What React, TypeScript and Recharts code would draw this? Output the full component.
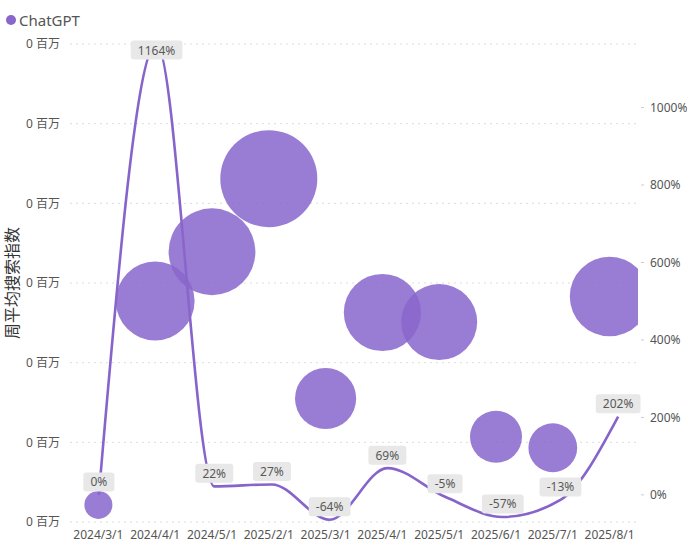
import React from 'react'
import {
  ComposedChart,
  Scatter,
  Line,
  XAxis,
  YAxis,
  ZAxis,
  CartesianGrid,
  LabelList,
} from 'recharts'

const months = [
  '2024/3/1',
  '2024/4/1',
  '2024/5/1',
  '2025/2/1',
  '2025/3/1',
  '2025/4/1',
  '2025/5/1',
  '2025/6/1',
  '2025/7/1',
  '2025/8/1',
]

// weekly average search index
const searchIndex = [10700, 138700, 169600, 215500, 77500, 131500, 125500, 53500, 46600, 141500]

// bubble size (area)
const bubbleSize = [196, 1552, 1884, 2352, 936, 1490, 1444, 676, 595, 1584]

// month-over-month growth, %
const growth = [0, 1164, 22, 27, -64, 69, -5, -57, -13, 202]

const leftTicks = [0, 50000, 100000, 150000, 200000, 250000, 300000]
const rightTicks = [0, 200, 400, 600, 800, 1000]

const purple = '#8866CC'
const font = "'Noto Sans', 'Noto Sans CJK SC', sans-serif"

const rows = months.map((date, i) => ({
  date,
  search: searchIndex[i],
  size: bubbleSize[i],
  growth: growth[i],
}))

function textWidth(s: string) {
  let w = 0
  for (const ch of s) {
    if (ch === '%') w += 10.2
    else if (ch === '-') w += 3.9
    else w += 6.86
  }
  return w
}

function GrowthLabel(props: any) {
  const { x, y, value } = props
  if (x == null || y == null) return null
  const text = `${value}%`
  const w = textWidth(text) + 14
  const h = 19
  // keep the box inside the plot at the top
  const cy = Math.max(y - 13, 50)
  return (
    <g>
      <rect x={x - w / 2} y={cy - h / 2} width={w} height={h} rx={3} fill="#e8e8e8" />
      <text
        x={x}
        y={cy}
        textAnchor="middle"
        dominantBaseline="central"
        fontSize={12}
        fill="#595959"
        fontFamily={font}
      >
        {text}
      </text>
    </g>
  )
}

export default function App() {
  return (
    <div style={{ position: 'absolute', left: 0, top: 0, width: 687, height: 547, background: '#fff' }}>
      {/* Legend */}
      <div
        style={{
          position: 'absolute',
          left: 6,
          top: 10,
          display: 'flex',
          alignItems: 'center',
          fontFamily: font,
          fontSize: 15,
          color: '#555',
          zIndex: 1,
        }}
      >
        <span
          style={{
            width: 10,
            height: 10,
            borderRadius: '50%',
            background: purple,
            display: 'inline-block',
            marginRight: 3,
          }}
        />
        ChatGPT
      </div>

      <ComposedChart
        width={687}
        height={547}
        data={rows}
        margin={{ top: 44, right: 0, bottom: 0, left: 0 }}
        style={{ fontFamily: font }}
      >
        <CartesianGrid
          vertical={false}
          xAxisId="bubble"
          yAxisId="left"
          stroke="#dddddd"
          strokeDasharray="2 4"
        />
        <XAxis
          xAxisId="bubble"
          dataKey="date"
          type="category"
          scale="band"
          allowDataOverflow
          axisLine={false}
          tickLine={false}
          height={25}
          interval={0}
          tick={{ fontSize: 12, fill: '#555' }}
        />
        <XAxis
          xAxisId="line"
          dataKey="date"
          type="category"
          scale="band"
          hide
          padding={{ left: 0, right: -9 }}
        />
        <YAxis
          yAxisId="left"
          dataKey="search"
          width={70}
          domain={[0, 300000]}
          ticks={leftTicks}
          allowDataOverflow
          axisLine={false}
          tickLine={false}
          tickMargin={4}
          tick={{ fontSize: 12, fill: '#555' }}
          tickFormatter={(v: number) => `${(v / 1e6).toFixed(0)} 百万`}
          label={{
            content: ({ viewBox }: any) => {
              const cy = viewBox.y + viewBox.height / 2
              return (
                <text
                  x={12}
                  y={cy}
                  transform={`rotate(-90 12 ${cy})`}
                  textAnchor="middle"
                  dominantBaseline="central"
                  fontSize={16}
                  fill="#333"
                  fontFamily={font}
                >
                  周平均搜索指数
                </text>
              )
            },
          }}
        />
        <YAxis
          yAxisId="right"
          orientation="right"
          width={49}
          domain={[-70, 1164]}
          ticks={rightTicks}
          allowDataOverflow
          axisLine={false}
          tickLine={{ stroke: '#cccccc', strokeDasharray: '3 3' }}
          tickSize={6}
          tickMargin={6}
          tick={{ fontSize: 12, fill: '#555' }}
          tickFormatter={(v: number) => `${v}%`}
        />
        <ZAxis dataKey="size" type="number" domain={[0, 2400]} range={[0, 2400 * Math.PI]} />

        <Scatter
          xAxisId="bubble"
          yAxisId="left"
          dataKey="search"
          fill={purple}
          fillOpacity={0.86}
          isAnimationActive={false}
        />

        {/* labels sit under the curve */}
        <Line
          xAxisId="line"
          yAxisId="right"
          dataKey="growth"
          type="monotone"
          stroke="none"
          dot={false}
          activeDot={false}
          isAnimationActive={false}
        >
          <LabelList dataKey="growth" content={GrowthLabel} />
        </Line>
        <Line
          xAxisId="line"
          yAxisId="right"
          dataKey="growth"
          type="monotone"
          stroke="#8764C9"
          strokeWidth={2.6}
          dot={false}
          activeDot={false}
          isAnimationActive={false}
        />
      </ComposedChart>
    </div>
  )
}
